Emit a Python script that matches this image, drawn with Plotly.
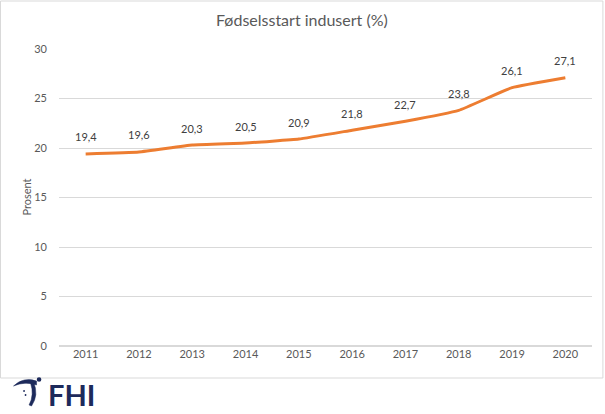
import plotly.graph_objects as go

years = ["2011", "2012", "2013", "2014", "2015", "2016", "2017", "2018", "2019", "2020"]
values = [19.4, 19.6, 20.3, 20.5, 20.9, 21.8, 22.7, 23.8, 26.1, 27.1]
labels = [f"{v:.1f}".replace(".", ",") for v in values]

W, H = 605, 414
L, R, T, B = 59.4, 13.4, 49, 68
pw, ph = W - L - R, H - T - B

def px(x, y):
    return (x - L) / pw, (H - B - y) / ph

fig = go.Figure()
fig.add_trace(go.Scatter(
    x=years, y=values, mode="lines",
    line=dict(color="#ED7D31", width=3, shape="spline", smoothing=0.3),
    cliponaxis=False, hoverinfo="skip"))

shapes = []
x0, y0 = px(1, 1)
x1, y1 = px(602.5, 378)
shapes.append(dict(type="rect", xref="paper", yref="paper", x0=x0, y0=y1, x1=x1, y1=y0,
                   line=dict(color="#d9d9d9", width=1), layer="below"))

def path(points, close=False):
    s = ""
    for cmd, pts in points:
        s += cmd + " " + " ".join(f"{px(a, b)[0]:.5f},{px(a, b)[1]:.5f}" for a, b in pts) + " "
    return s + ("Z" if close else "")

navy = "#1d2a5b"
shapes.append(dict(type="path", xref="paper", yref="paper",
                   path=path([("M", [(14, 386)]), ("Q", [(24, 376.5), (37, 381)]),
                              ("L", [(37, 385)]), ("Q", [(25, 381), (14, 386)])], True),
                   fillcolor=navy, line=dict(color=navy, width=0.5)))
shapes.append(dict(type="path", xref="paper", yref="paper",
                   path=path([("M", [(34, 382)]), ("Q", [(39.5, 395), (32, 406)]),
                              ("L", [(29.5, 405)]), ("Q", [(35, 395), (31, 383)])], True),
                   fillcolor=navy, line=dict(color=navy, width=0.5)))
for cx, cy, r in [(39.5, 379.5, 2.3), (24.5, 391, 0.9), (26, 395, 0.9)]:
    a0, b0 = px(cx - r, cy + r)
    a1, b1 = px(cx + r, cy - r)
    shapes.append(dict(type="circle", xref="paper", yref="paper", x0=a0, y0=b0, x1=a1, y1=b1,
                       fillcolor=navy, line=dict(width=0)))

fx, fy = px(46, 394)
tx, ty = px(W / 2 - 0.5, 20)
yt_x, yt_y = px(26, 197)

annotations = [
    dict(text="Fødselsstart indusert (%)", xref="paper", yref="paper", x=tx, y=ty,
         showarrow=False, font=dict(size=16, color="#595959", family="Lato"),
         xanchor="center", yanchor="middle"),
    dict(text="Prosent", xref="paper", yref="paper", x=yt_x, y=yt_y, textangle=-90,
         showarrow=False, font=dict(size=11, color="#595959", family="Lato"),
         xanchor="center", yanchor="middle"),
    dict(text="<b>FHI</b>", xref="paper", yref="paper", x=fx, y=fy, showarrow=False,
         font=dict(size=29, color=navy, family="Lato"), xanchor="left", yanchor="middle"),
]
for i, (v, lab) in enumerate(zip(values, labels)):
    annotations.append(dict(text=lab, x=i, y=v, xref="x", yref="y", showarrow=False,
                            yshift=17, xanchor="center", yanchor="middle",
                            font=dict(size=11, color="#404040", family="Lato")))

fig.update_layout(
    width=W, height=H, margin=dict(l=L, r=R, t=T, b=B, autoexpand=False),
    paper_bgcolor="white", plot_bgcolor="white", showlegend=False,
    font=dict(family="Lato", color="#595959", size=11),
    shapes=shapes, annotations=annotations,
    xaxis=dict(type="category", range=[-0.5, len(years) - 0.5], showgrid=False,
               showline=False, ticks="", tickfont=dict(size=11, color="#595959"),
               fixedrange=True),
    yaxis=dict(range=[0, 30], tick0=0, dtick=5, showgrid=True, gridcolor="#d9d9d9",
               gridwidth=1, zeroline=True, zerolinecolor="#d9d9d9", showline=False,
               ticks="", tickfont=dict(size=11, color="#595959"), ticklabelstandoff=11,
               fixedrange=True),
)

fig.write_html("out.html", config={"displayModeBar": False, "staticPlot": True},
               post_script="document.body.style.margin='0';document.body.style.overflow='hidden';")
